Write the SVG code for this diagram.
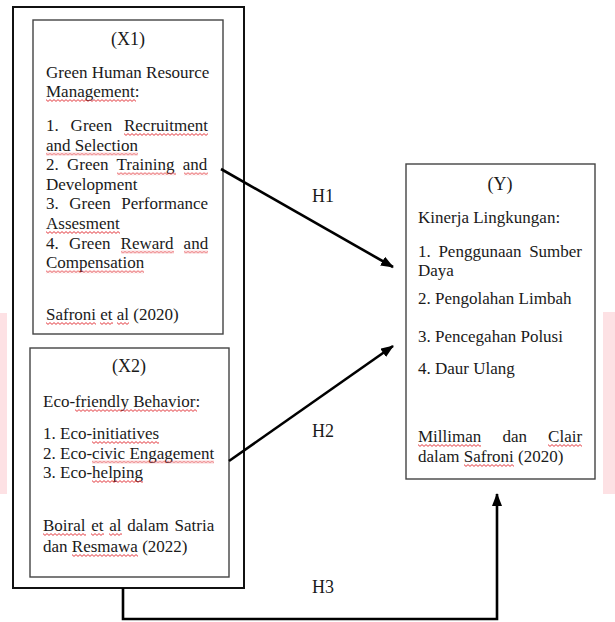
<svg xmlns="http://www.w3.org/2000/svg" width="615" height="622" viewBox="0 0 615 622">
<style>
text{font-family:"Liberation Serif","Times New Roman",serif;font-size:17px;fill:#1a1a1a}
.t{font-size:18px;text-anchor:middle}
.box{fill:#fff;stroke:#444;stroke-width:1.4}
.outer{fill:#fff;stroke:#111;stroke-width:2}
.con{fill:none;stroke:#000;stroke-width:2.6}
.sq{fill:url(#wave)}
.pink{fill:#fde1e4}
</style>
<defs>
<pattern id="wave" patternUnits="userSpaceOnUse" width="4" height="3">
<path d="M0,0.6 L2,2.4 L4,0.6" fill="none" stroke="#e0252a" stroke-width="0.9"/>
</pattern>
<marker id="ah" markerUnits="userSpaceOnUse" markerWidth="14" markerHeight="12" refX="12" refY="5" orient="auto">
<path d="M0,0 L13,5 L0,10 z" fill="#000"/>
</marker>
</defs>
<rect width="615" height="622" fill="#fff"/>
<rect class="pink" x="0" y="313" width="7" height="181"/>
<rect class="pink" x="603" y="312" width="12" height="182"/>

<g id="outer">
<rect class="outer" x="13" y="7" width="231" height="581"/>
</g>

<g id="x1">
<rect class="box" x="33" y="20" width="190" height="314"/>
<text class="t" x="128" y="45">(X1)</text>
<text x="46" y="78">Green Human Resource</text>
<text x="46" y="97">Management:</text>
<text x="46" y="131" word-spacing="7.6">1. Green Recruitment</text>
<text x="46" y="150.6">and Selection</text>
<text x="46" y="170.2" word-spacing="4">2. Green Training and</text>
<text x="46" y="189.8">Development</text>
<text x="46" y="209.4" word-spacing="6.2">3. Green Performance</text>
<text x="46" y="229">Assesment</text>
<text x="46" y="248.6" word-spacing="5.9">4. Green Reward and</text>
<text x="46" y="268.2">Compensation</text>
<text x="46" y="320">Safroni et al (2020)</text>
<rect class="sq" transform="translate(46 99)" width="90" height="3"/>
<rect class="sq" transform="translate(124 133)" width="84" height="3"/>
<rect class="sq" transform="translate(46 152.6)" width="92" height="3"/>
<rect class="sq" transform="translate(117 172.2)" width="59" height="3"/>
<rect class="sq" transform="translate(184 172.2)" width="24" height="3"/>
<rect class="sq" transform="translate(46 231)" width="74" height="3"/>
<rect class="sq" transform="translate(121 250.6)" width="53" height="3"/>
<rect class="sq" transform="translate(184 250.6)" width="24" height="3"/>
<rect class="sq" transform="translate(46 270.2)" width="98" height="3"/>
<rect class="sq" transform="translate(46 322)" width="50" height="3"/>
<rect class="sq" transform="translate(100 322)" width="13" height="3"/>
<rect class="sq" transform="translate(117 322)" width="12" height="3"/>
</g>

<g id="x2">
<rect class="box" x="30" y="348" width="199" height="229"/>
<text class="t" x="129" y="372">(X2)</text>
<text x="43" y="407">Eco-friendly Behavior:</text>
<text x="43" y="439">1. Eco-initiatives</text>
<text x="43" y="458.5">2. Eco-civic Engagement</text>
<text x="43" y="478">3. Eco-helping</text>
<text x="43" y="531" word-spacing="1.5">Boiral et al dalam Satria</text>
<text x="43" y="552">dan Resmawa (2022)</text>
<rect class="sq" transform="translate(75 409)" width="122" height="3"/>
<rect class="sq" transform="translate(92 441)" width="67" height="3"/>
<rect class="sq" transform="translate(92 460.5)" width="122" height="3"/>
<rect class="sq" transform="translate(92 480)" width="51" height="3"/>
<rect class="sq" transform="translate(43 533)" width="43" height="3"/>
<rect class="sq" transform="translate(91 533)" width="13" height="3"/>
<rect class="sq" transform="translate(109 533)" width="13" height="3"/>
<rect class="sq" transform="translate(72 554)" width="66" height="3"/>
</g>

<g id="y">
<rect class="box" x="406" y="164" width="189" height="315"/>
<text class="t" x="500" y="190">(Y)</text>
<text x="418" y="223">Kinerja Lingkungan:</text>
<text x="418" y="257" word-spacing="3.4">1. Penggunaan Sumber</text>
<text x="418" y="275.5">Daya</text>
<text x="418" y="304">2. Pengolahan Limbah</text>
<text x="418" y="342">3. Pencegahan Polusi</text>
<text x="418" y="374">4. Daur Ulang</text>
<text x="418" y="442" word-spacing="16.9">Milliman dan Clair</text>
<text x="418" y="462">dalam Safroni (2020)</text>
<rect class="sq" transform="translate(418 444)" width="63" height="3"/>
<rect class="sq" transform="translate(548 444)" width="34" height="3"/>
<rect class="sq" transform="translate(464 464)" width="50" height="3"/>
</g>

<g id="connectors">
<line class="con" x1="221" y1="169" x2="393" y2="267" marker-end="url(#ah)"/>
<line class="con" x1="229" y1="461" x2="393" y2="346" marker-end="url(#ah)"/>
<polyline class="con" points="123,588 123,619 497,619 497,494" marker-end="url(#ah)"/>
<text class="t" x="323" y="202">H1</text>
<text class="t" x="323" y="437">H2</text>
<text class="t" x="323" y="593">H3</text>
</g>
</svg>
